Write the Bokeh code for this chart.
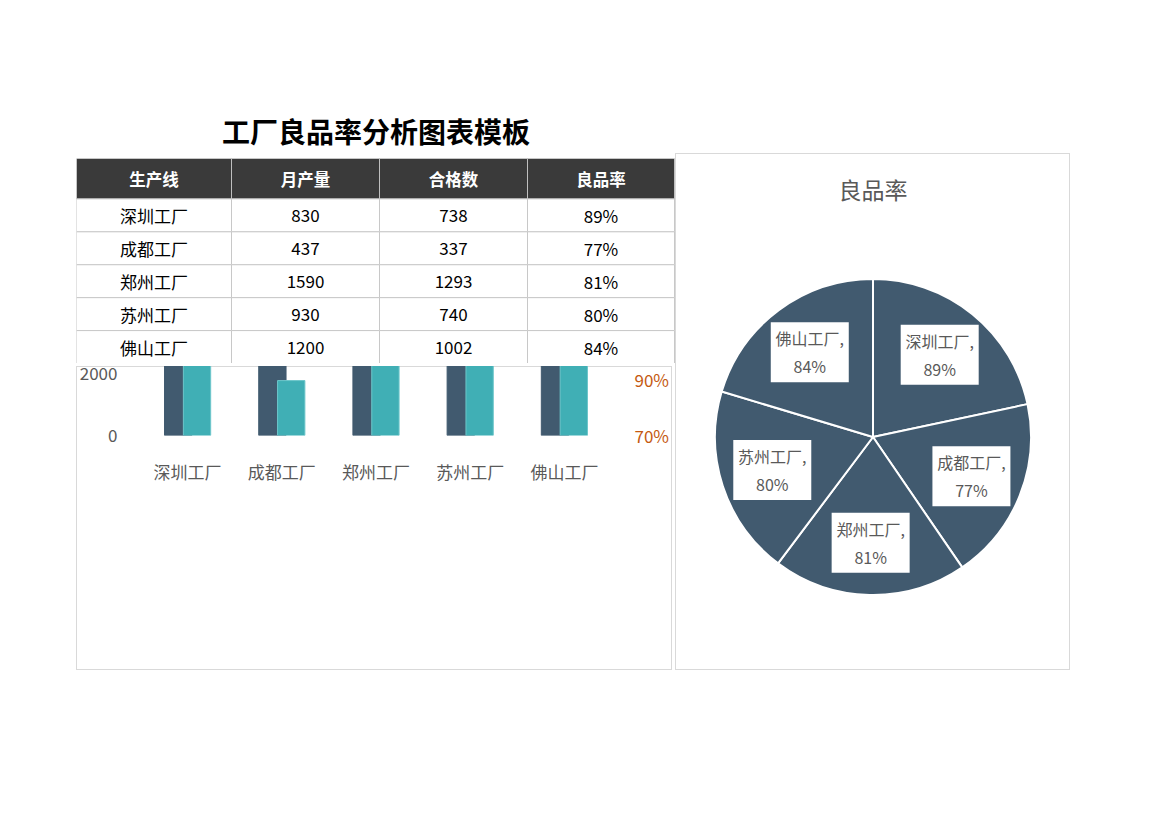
import numpy as np
from bokeh.plotting import figure
from bokeh.models import (ColumnDataSource, Range1d, LinearAxis, FixedTicker,
                          NumeralTickFormatter, Legend, LegendItem, Spacer)
from bokeh.layouts import row, column
from bokeh.core.properties import value
from bokeh.embed import file_html
from bokeh.resources import INLINE

# ---------------- data ----------------
factories = ["深圳工厂", "成都工厂", "郑州工厂", "苏州工厂", "佛山工厂"]
monthly_output = [830, 437, 1590, 930, 1200]
qualified = [738, 337, 1293, 740, 1002]
yield_rate = [0.889, 0.771, 0.813, 0.796, 0.835]
table_headers = ["生产线", "月产量", "合格数", "良品率"]
left_ticks = [0, 500, 1000, 1500, 2000]
right_ticks = [0.70, 0.75, 0.80, 0.85, 0.90]

# ---------------- style ----------------
FONT = "Noto Sans CJK SC"
DARK = "#415A6F"
TEAL = "#40AFB5"
ORANGE = "#C55A11"
GRAY_TXT = "#595959"
GRID = "#D9D9D9"
BOX_STYLE = {"background-color": "white", "box-shadow": "inset 0 0 0 1px #D9D9D9"}
BAR_SHIFT = 0.1
n = len(factories)

# ---------------- table + page title ----------------
col_w = [155, 148, 148, 147]
head_h = 41
row_h = 33.4
tbl_h = head_h + row_h * n
edges = list(np.cumsum([0] + col_w))

tf = figure(width=599, height=55 + int(round(tbl_h)), x_range=Range1d(0, 599),
            y_range=Range1d(tbl_h, 0), output_backend="svg", toolbar_location=None,
            x_axis_location=None, y_axis_location=None,
            min_border_left=0, min_border_right=0, min_border_top=55, min_border_bottom=0)
tf.grid.visible = False
tf.outline_line_color = None
tf.title.text = "工厂良品率分析图表模板"
tf.title.align = "center"
tf.title.text_font = FONT
tf.title.text_font_size = "28px"
tf.title.text_font_style = "bold"
tf.title.text_color = "#000000"
tf.title.standoff = 16

hdr = ColumnDataSource(dict(left=edges[:-1], right=edges[1:],
                            xc=[(a + b) / 2 for a, b in zip(edges[:-1], edges[1:])],
                            text=table_headers))
tf.quad(left="left", right="right", top=0, bottom=head_h, source=hdr,
        fill_color="#3A3A3A", line_color="#BFBFBF", line_width=1)
tf.text(x="xc", y=head_h / 2, text="text", source=hdr, text_color="white",
        text_font=value(FONT), text_font_size="16.5px", text_font_style="bold",
        text_align="center", text_baseline="middle")

cells = {"left": [], "right": [], "top": [], "bottom": [], "xc": [], "yc": [], "text": []}
for r in range(n):
    vals = [factories[r], str(monthly_output[r]), str(qualified[r]),
            f"{yield_rate[r] * 100:.0f}%"]
    for c in range(4):
        top = head_h + r * row_h
        cells["left"].append(edges[c]); cells["right"].append(edges[c + 1])
        cells["top"].append(top); cells["bottom"].append(top + row_h)
        cells["xc"].append((edges[c] + edges[c + 1]) / 2)
        cells["yc"].append(top + row_h / 2)
        cells["text"].append(vals[c])
cs = ColumnDataSource(cells)
tf.quad(left="left", right="right", top="top", bottom="bottom", source=cs,
        fill_color="white", line_color="#C8C8C8", line_width=1)
tf.text(x="xc", y="yc", text="text", source=cs, text_color="#000000",
        text_font=value(FONT), text_font_size="17px",
        text_align="center", text_baseline="middle")

# ---------------- combo chart ----------------
xs = list(range(n))
src = ColumnDataSource(dict(x=xs, name=factories, output=monthly_output,
                            qualified=qualified, rate=yield_rate,
                            x_out=[x - BAR_SHIFT for x in xs],
                            x_q=[x + BAR_SHIFT for x in xs]))

cf = figure(width=596, height=304, x_range=Range1d(-0.5, n - 0.5),
            y_range=Range1d(left_ticks[0], left_ticks[-1]),
            output_backend="svg", toolbar_location=None,
            min_border_left=64, min_border_right=59, min_border_top=68, min_border_bottom=84,
            styles=BOX_STYLE, border_fill_color=None, background_fill_color=None)
cf.extra_y_ranges = {"rate": Range1d(right_ticks[0], right_ticks[-1])}
cf.outline_line_color = None
cf.title.text = "产量与良品率"
cf.title.align = "center"
cf.title.text_font = FONT
cf.title.text_font_size = "23px"
cf.title.text_color = GRAY_TXT
cf.title.standoff = 33

r1 = cf.vbar(x="x_out", top="output", width=0.29, source=src,
             fill_color=DARK, line_color=DARK)
r2 = cf.vbar(x="x_q", top="qualified", width=0.29, source=src,
             fill_color=TEAL, line_color="#6CC6CA", line_width=1)

# smoothed line (Catmull-Rom -> cubic Bezier control points)
ys = yield_rate
bz = {"x0": [], "y0": [], "x1": [], "y1": [], "cx0": [], "cy0": [], "cx1": [], "cy1": []}
for i in range(n - 1):
    pm = max(i - 1, 0)
    pp = min(i + 2, n - 1)
    bz["x0"].append(xs[i]); bz["y0"].append(ys[i])
    bz["x1"].append(xs[i + 1]); bz["y1"].append(ys[i + 1])
    bz["cx0"].append(xs[i] + (xs[i + 1] - xs[pm]) / 6)
    bz["cy0"].append(ys[i] + (ys[i + 1] - ys[pm]) / 6)
    bz["cx1"].append(xs[i + 1] - (xs[pp] - xs[i]) / 6)
    bz["cy1"].append(ys[i + 1] - (ys[pp] - ys[i]) / 6)
r3 = cf.bezier(x0="x0", y0="y0", x1="x1", y1="y1", cx0="cx0", cy0="cy0",
               cx1="cx1", cy1="cy1", source=ColumnDataSource(bz),
               line_color=ORANGE, line_width=2.5, y_range_name="rate")
r4 = cf.scatter(x="x", y="rate", source=src, marker="square", angle=np.pi / 4,
                size=11, fill_color=ORANGE, line_color=ORANGE, y_range_name="rate")
# legend key for the line (no data of its own)
r5 = cf.line(x=[], y=[], line_color=ORANGE, line_width=2.5, y_range_name="rate")

cf.xaxis.ticker = FixedTicker(ticks=xs)
cf.xaxis.major_label_overrides = {i: f for i, f in enumerate(factories)}
cf.yaxis.ticker = FixedTicker(ticks=left_ticks)
ra = LinearAxis(y_range_name="rate", ticker=FixedTicker(ticks=right_ticks),
                formatter=NumeralTickFormatter(format="0%"))
cf.add_layout(ra, "right")
for ax in cf.axis:
    ax.axis_line_color = None
    ax.major_tick_line_color = None
    ax.minor_tick_line_color = None
    ax.major_label_text_font = FONT
    ax.major_label_text_color = GRAY_TXT
    ax.major_label_text_font_size = "17px"
    ax.major_label_standoff = 17
ra.major_label_text_color = ORANGE
cf.xgrid.grid_line_color = None
cf.ygrid.grid_line_color = GRID

legend = Legend(items=[LegendItem(label=value("月产量"), renderers=[r1]),
                       LegendItem(label=value("合格数"), renderers=[r2]),
                       LegendItem(label=value("良品率"), renderers=[r5, r4])],
                orientation="horizontal", location="center",
                border_line_color=None, background_fill_alpha=0,
                label_text_font=FONT, label_text_font_size="16px",
                label_text_color=GRAY_TXT, glyph_width=27, glyph_height=12,
                spacing=14, label_standoff=4, padding=6, margin=5)
cf.add_layout(legend, "below")

# ---------------- pie chart ----------------
total = sum(yield_rate)
cum = np.cumsum([0] + yield_rate) / total * 2 * np.pi  # clockwise from top
starts = [np.pi / 2 - b for b in cum[1:]]
ends = [np.pi / 2 - a for a in cum[:-1]]
mids = [(a + b) / 2 for a, b in zip(cum[:-1], cum[1:])]
pie_r = 158
lbl_r = 106
psrc = ColumnDataSource(dict(start=starts, end=ends, name=factories,
                             lx=[lbl_r * np.sin(m) for m in mids],
                             ly=[lbl_r * np.cos(m) for m in mids],
                             label=[f"{f},\n{r * 100:.0f}%" for f, r in zip(factories, yield_rate)]))

pf = figure(width=395, height=517, x_range=Range1d(-197.5, 197.5), y_range=Range1d(-234, 215),
            output_backend="svg", toolbar_location=None,
            x_axis_location=None, y_axis_location=None,
            min_border_left=0, min_border_right=0, min_border_top=68, min_border_bottom=0,
            styles=BOX_STYLE, border_fill_color=None, background_fill_color=None)
pf.grid.visible = False
pf.outline_line_color = None
pf.title.text = "良品率"
pf.title.align = "center"
pf.title.text_font = FONT
pf.title.text_font_size = "23px"
pf.title.text_font_style = "normal"
pf.title.text_color = GRAY_TXT
pf.title.standoff = 33
pf.wedge(x=0, y=0, radius=pie_r, start_angle="start", end_angle="end", source=psrc,
         fill_color=DARK, line_color="white", line_width=2)
pf.rect(x="lx", y="ly", width=78, height=60, width_units="screen", height_units="screen",
        source=psrc, fill_color="white", line_color=None)
pf.text(x="lx", y="ly", text="label", source=psrc, text_color=GRAY_TXT,
        text_font=value(FONT), text_font_size="16px", text_align="center",
        text_baseline="middle", text_line_height=1.15)

# figures are independent panels: do not align their frames with each other
for fig in (tf, cf, pf):
    try:
        fig.frame_align = False
    except Exception:
        pass

# ---------------- layout ----------------
left_col = column(Spacer(height=100), tf, Spacer(height=3), cf)
right_col = column(Spacer(height=153), pf)
page = row(Spacer(width=76), left_col, right_col)

open("out.html", "w").write(file_html(page, INLINE))
